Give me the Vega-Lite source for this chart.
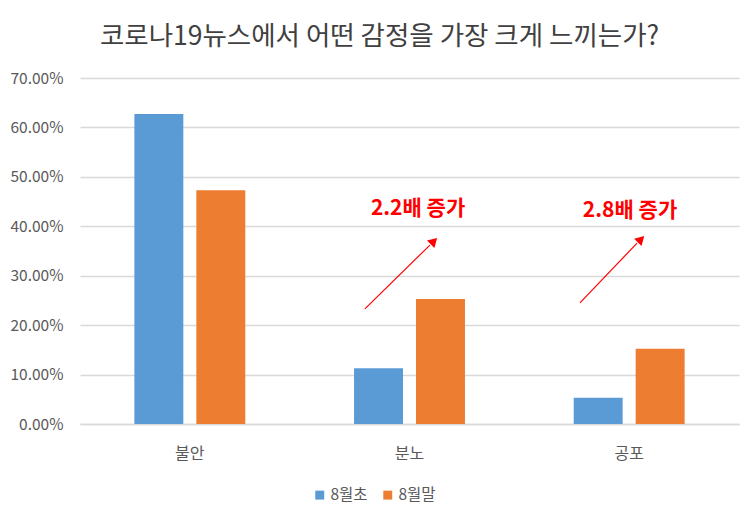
{
  "$schema": "https://vega.github.io/schema/vega-lite/v6.json",
  "width": 659,
  "height": 346,
  "autosize": {"type": "none"},
  "padding": {"left": 80, "top": 78, "right": 16, "bottom": 95},
  "background": "white",
  "config": {
    "font": "Noto Sans CJK KR",
    "view": {"stroke": null}
  },
  "title": {
    "text": "코로나19뉴스에서 어떤 감정을 가장 크게 느끼는가?",
    "fontSize": 26.5,
    "fontWeight": "normal",
    "color": "#404040",
    "anchor": "middle",
    "offset": 21,
    "dx": -30
  },
  "datasets": {
    "main": [
      {"emotion": "불안", "period": "8월초", "value": 0.627},
      {"emotion": "불안", "period": "8월말", "value": 0.473},
      {"emotion": "분노", "period": "8월초", "value": 0.113},
      {"emotion": "분노", "period": "8월말", "value": 0.253},
      {"emotion": "공포", "period": "8월초", "value": 0.053},
      {"emotion": "공포", "period": "8월말", "value": 0.152}
    ],
    "arrows": [
      {"x1": 1.297, "y1": 0.233, "x2": 1.593, "y2": 0.362},
      {"x1": 2.276, "y1": 0.245, "x2": 2.536, "y2": 0.366}
    ],
    "heads": [
      {"x": 1.611, "y": 0.370},
      {"x": 2.554, "y": 0.374}
    ],
    "notes": [
      {"x": 1.539, "y": 0.435, "label": "2.2배 증가"},
      {"x": 2.504, "y": 0.431, "label": "2.8배 증가"}
    ]
  },
  "layer": [
    {
      "data": {"name": "main"},
      "mark": {"type": "bar"},
      "encoding": {
        "x": {
          "field": "emotion",
          "type": "nominal",
          "sort": ["불안", "분노", "공포"],
          "scale": {"paddingInner": 0.495, "paddingOuter": 0.2475},
          "axis": {
            "title": null,
            "labelAngle": 0,
            "labelFontSize": 16,
            "labelColor": "#595959",
            "labelPadding": 21,
            "ticks": false,
            "domainColor": "#D9D9D9",
            "domainWidth": 1.5
          }
        },
        "xOffset": {
          "field": "period",
          "type": "nominal",
          "sort": ["8월초", "8월말"],
          "scale": {"paddingInner": 0.21, "paddingOuter": 0}
        },
        "y": {
          "field": "value",
          "type": "quantitative",
          "scale": {"domain": [0, 0.7]},
          "axis": {
            "title": null,
            "format": ".2%",
            "values": [0, 0.1, 0.2, 0.3, 0.4, 0.5, 0.6, 0.7],
            "labelFontSize": 15.5,
            "labelColor": "#595959",
            "labelPadding": 17,
            "ticks": false,
            "domain": false,
            "gridColor": "#D9D9D9",
            "gridWidth": 1.5
          }
        },
        "color": {
          "field": "period",
          "type": "nominal",
          "sort": ["8월초", "8월말"],
          "scale": {"domain": ["8월초", "8월말"], "range": ["#5B9BD5", "#ED7D31"]},
          "legend": {
            "title": null,
            "orient": "none",
            "legendX": 232,
            "legendY": 409,
            "direction": "horizontal",
            "symbolType": "square",
            "symbolSize": 80,
            "labelFontSize": 15.5,
            "labelColor": "#595959",
            "columnPadding": 12,
            "labelOffset": 3
          }
        }
      }
    },
    {
      "data": {"name": "arrows"},
      "mark": {"type": "rule", "color": "#FF0000", "strokeWidth": 1.2},
      "encoding": {
        "x": {"field": "x1", "type": "quantitative", "scale": {"domain": [0, 3]}, "axis": null},
        "x2": {"field": "x2"},
        "y": {"field": "y1", "type": "quantitative"},
        "y2": {"field": "y2"}
      }
    },
    {
      "data": {"name": "heads"},
      "mark": {"type": "point", "shape": "triangle-up", "filled": true, "color": "#FF0000", "size": 110, "angle": 45, "opacity": 1},
      "encoding": {
        "x": {"field": "x", "type": "quantitative", "scale": {"domain": [0, 3]}, "axis": null},
        "y": {"field": "y", "type": "quantitative"}
      }
    },
    {
      "data": {"name": "notes"},
      "mark": {"type": "text", "color": "#FF0000", "fontSize": 21, "fontWeight": "bold", "align": "center", "baseline": "middle"},
      "encoding": {
        "x": {"field": "x", "type": "quantitative", "scale": {"domain": [0, 3]}, "axis": null},
        "y": {"field": "y", "type": "quantitative"},
        "text": {"field": "label"}
      }
    }
  ],
  "resolve": {"scale": {"x": "independent"}}
}
